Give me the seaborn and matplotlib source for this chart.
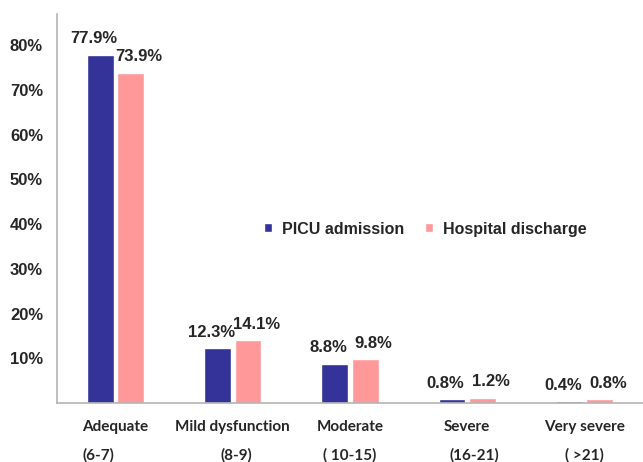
import matplotlib
matplotlib.use("Agg")
import matplotlib.pyplot as plt
import seaborn as sns
import pandas as pd

categories = ["Adequate", "Mild dysfunction", "Moderate", "Severe", "Very severe"]
score_ranges = ["(6-7)", "(8-9)", "( 10-15)", "(16-21)", "( >21)"]
picu_admission = [77.9, 12.3, 8.8, 0.8, 0.4]
hospital_discharge = [73.9, 14.1, 9.8, 1.2, 0.8]
series_names = ["PICU admission", "Hospital discharge"]
yticks = [10, 20, 30, 40, 50, 60, 70, 80]

# small horizontal nudges of the second label line (as in the original)
range_shift = [-0.145, 0.03, 0.0, 0.06, 0.0]

df = pd.DataFrame({
    "category": categories * 2,
    "value": picu_admission + hospital_discharge,
    "series": [series_names[0]] * 5 + [series_names[1]] * 5,
})

sns.set_style("white")
plt.rcParams["font.family"] = ["Liberation Sans", "DejaVu Sans"]

fig = plt.figure(figsize=(6.43, 4.62), dpi=100)
ax = fig.add_axes([57 / 643, 59 / 462, 586 / 643, 389 / 462])

sns.barplot(data=df, x="category", y="value", hue="series",
            palette=["#333399", "#FF9999"], width=0.52, gap=0.12,
            saturation=1, ax=ax, legend=False)

# value labels: blue ones nudged left, pink ones right so they don't collide
for cont, dx in zip(ax.containers, [-4.5, 6]):
    anns = ax.bar_label(cont, fmt="%.1f%%", padding=6, fontsize=12, fontweight="bold")
    for a in anns:
        a.xyann = (dx, 6)

ax.set_xlim(-0.5, 4.5)
ax.set_ylim(0, 87)
ax.set_yticks(yticks)
ax.set_yticklabels([f"{t}%" for t in yticks], fontsize=12, fontweight="bold")
ax.set_xlabel("")
ax.set_ylabel("")
ax.set_xticks(range(len(categories)))
ax.set_xticklabels(categories, fontsize=11, fontweight="bold", family="Lato")
ax.tick_params(axis="both", length=0)
ax.tick_params(axis="y", pad=10)
ax.tick_params(axis="x", pad=12)

for i, rng in enumerate(score_ranges):
    ax.text(i + range_shift[i], -0.134, rng, transform=ax.get_xaxis_transform(),
            ha="center", va="center", fontsize=11, fontweight="bold", family="Lato")

for side in ["top", "right"]:
    ax.spines[side].set_visible(False)
for side in ["left", "bottom"]:
    ax.spines[side].set_color("#b4b4b4")
    ax.spines[side].set_linewidth(1.2)

handles = [c.patches[0] for c in ax.containers]
fig.legend(handles, series_names, loc="center left", bbox_to_anchor=(250 / 643, 1 - 229 / 462),
           ncol=2, frameon=False, prop={"size": 11.5, "weight": "bold"},
           handlelength=0.5, handleheight=0.5, handletextpad=0.6, columnspacing=1.3)

fig.savefig("out.png", dpi=100)
plt.close(fig)
